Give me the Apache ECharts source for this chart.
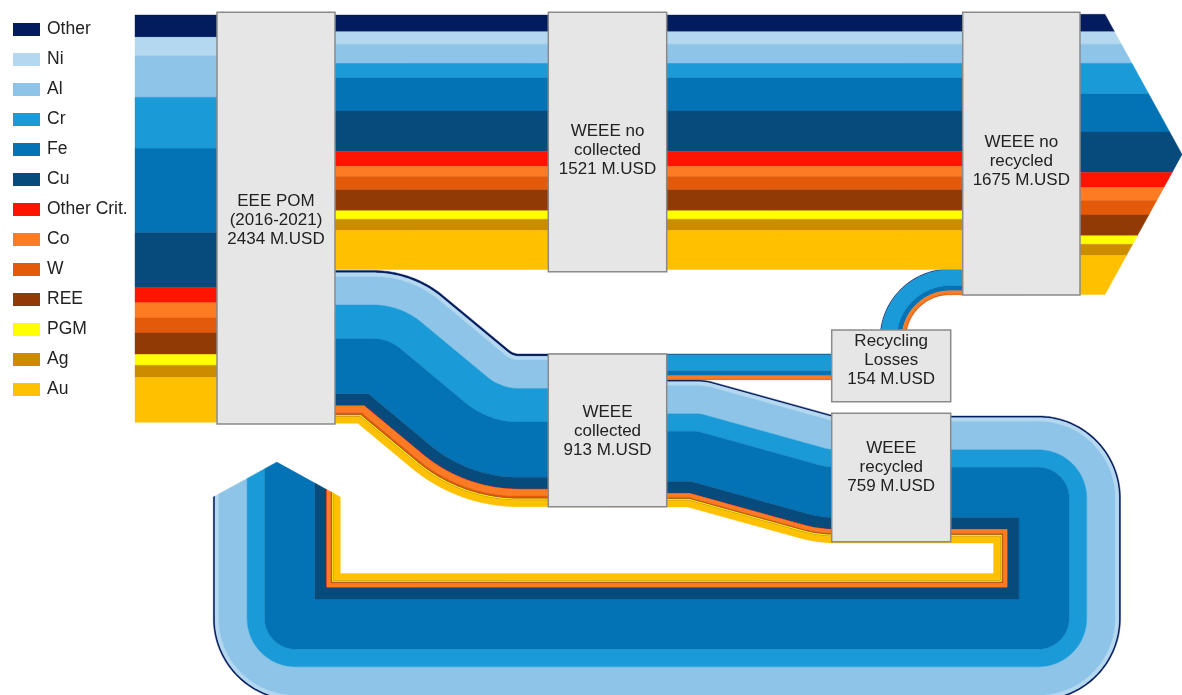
<!DOCTYPE html>
<html><head><meta charset="utf-8">
<script src="https://cdn.jsdelivr.net/npm/echarts@6/dist/echarts.min.js"></script>
<style>html,body{margin:0;padding:0;background:#fff}#c{width:1182px;height:695px}</style>
</head><body><div id="c"></div>
<script>
// ---------- data (M.USD) ----------
const materials = ['Other','Ni','Al','Cr','Fe','Cu','Other Crit.','Co','W','REE','PGM','Ag','Au'];
const pomIn       = [133,110,249,305,504,329,90,90,90,129,64,74,267];
const noCollected = [100,75,114,86,199,241,90,60,80,125,50,68,233];
const collected   = [14,22,170,201,330,70,2,40,12,4,6,4,38];
const losses      = [4,0,0,96,30,0,0,18,6,0,0,0,0];
const recycled    = [10,22,170,105,300,70,2,22,6,4,6,4,38];
const noRecycled  = [104,75,114,182,229,241,90,78,86,125,50,68,233];
const nodeNames   = ['EEE POM\n(2016-2021)','WEEE no\ncollected','WEEE no\nrecycled','WEEE\ncollected','Recycling\nLosses','WEEE\nrecycled'];
const nodeTotals  = [2434,1521,1675,913,154,759];

// ---------- styles / layout ----------
const colors = ['#021c5e','#b4d8ef','#8ec4e8','#1a9ad6','#0373b6','#064b7c','#ff1400','#fd7b22','#e25a0a','#913a05','#ffff00','#cc8c00','#ffc000'];
const PX = 407.3 / 2434;      // layout units per M.USD
const ARROW = 0.55;           // arrow tip length / half width
const FONT = '"Liberation Sans", Arial, sans-serif';

const flows = [
  {vals: recycled,    pts: [[607,380],[705,380],[835,416],[1120.5,416],[1120.5,700.5],[213.3,700.5],[213.3,497]], radii: [60,10,82,82,82], arrow: true},
  {vals: pomIn,       pts: [[135,15],[276,15]], radii: []},
  {vals: noCollected, pts: [[276,15],[1021,15]], radii: []},
  {vals: noRecycled,  pts: [[1021,14.3],[1105,14.3]], radii: [], arrow: true},
  {vals: collected,   pts: [[276,270.5],[413,270.5],[513.5,354],[607,354]], radii: [110,15]},
  {vals: losses,      pts: [[607,354],[891,354]], radii: []},
  {vals: losses,      pts: [[880,366],[880,269],[1021,269]], radii: [70]}
];
const nodeRects = [
  [217,12.3,335,424],[548.3,12.3,666.7,271.7],[962.7,12.3,1080,295],
  [548.3,354,666.7,506.7],[831.7,330,950.7,401.7],[831.7,413.3,950.7,541.7]
];
const labelPos = [[276,220],[607.5,150],[1021.3,161],[607.5,431.7],[891.2,360.5],[891.2,467]];

// ---------- geometry ----------
function segDirs(pts){
  const u=[];
  for(let i=0;i<pts.length-1;i++){
    const dx=pts[i+1][0]-pts[i][0], dy=pts[i+1][1]-pts[i][1], L=Math.hypot(dx,dy);
    u.push([dx/L,dy/L]);
  }
  return u;
}
function offsetLine(pts, radii, d){
  const n=pts.length, u=segDirs(pts), nr=u.map(v=>[-v[1],v[0]]);
  const out=[[pts[0][0]+nr[0][0]*d, pts[0][1]+nr[0][1]*d]];
  for(let i=1;i<n-1;i++){
    const ua=u[i-1], ub=u[i], na=nr[i-1], nb=nr[i];
    const dot=na[0]*nb[0]+na[1]*nb[1];
    const mx=pts[i][0]+d*(na[0]+nb[0])/(1+dot);
    const my=pts[i][1]+d*(na[1]+nb[1])/(1+dot);
    const cross=ua[0]*ub[1]-ua[1]*ub[0];
    const R=radii[i-1]||0;
    const r=Math.max(0, cross>0 ? R-d : R+d);
    const th=Math.acos(Math.max(-1,Math.min(1,ua[0]*ub[0]+ua[1]*ub[1])));
    if(r<0.01||th<1e-3){ out.push([mx,my]); continue; }
    const t=r*Math.tan(th/2);
    const A=[mx-ua[0]*t, my-ua[1]*t];
    const s=cross>0?1:-1;
    const C=[A[0]+na[0]*r*s, A[1]+na[1]*r*s];
    const a0=Math.atan2(A[1]-C[1],A[0]-C[0]);
    const N=Math.max(3,Math.ceil(th*r/2));
    for(let k=0;k<=N;k++){ const a=a0+s*th*k/N; out.push([C[0]+r*Math.cos(a), C[1]+r*Math.sin(a)]); }
  }
  out.push([pts[n-1][0]+nr[n-2][0]*d, pts[n-1][1]+nr[n-2][1]*d]);
  return out;
}
function bandPolygon(f, d1, d2){
  const a=offsetLine(f.pts,f.radii,d1), b=offsetLine(f.pts,f.radii,d2).reverse();
  if(!f.arrow) return a.concat(b);
  const u=segDirs(f.pts), ue=u[u.length-1], ne=[-ue[1],ue[0]];
  const P=f.pts[f.pts.length-1];
  const W=PX*f.vals.reduce((s,v)=>s+v,0), H=W/2, L=ARROW*H;
  const ext=d=>L*(1-Math.abs(d-H)/H);
  const cap=[[P[0]+ne[0]*d1+ue[0]*ext(d1), P[1]+ne[1]*d1+ue[1]*ext(d1)]];
  if(d1<H && d2>H) cap.push([P[0]+ne[0]*H+ue[0]*L, P[1]+ne[1]*H+ue[1]*L]);
  cap.push([P[0]+ne[0]*d2+ue[0]*ext(d2), P[1]+ne[1]*d2+ue[1]*ext(d2)]);
  return a.concat(cap, b);
}

// ---------- series ----------
const series = materials.map((name,m)=>({
  type:'custom', name, coordinateSystem:'cartesian2d', z:2,
  itemStyle:{color:colors[m]},
  data: flows.map((f,i)=>[i,m,f.vals[m]]).filter(r=>r[2]>0),
  renderItem:(params,api)=>{
    const fi=api.value(0), mi=api.value(1), f=flows[fi];
    let d1=0; for(let k=0;k<mi;k++) d1+=f.vals[k]*PX;
    const d2=d1+api.value(2)*PX;
    const points=bandPolygon(f,d1,d2).map(p=>api.coord(p));
    return {type:'polygon', shape:{points}, style:{fill:colors[mi], stroke:colors[mi], lineWidth:0.4}};
  }
}));
series.push({
  type:'custom', name:'nodes', coordinateSystem:'cartesian2d', z:10,
  data: nodeTotals.map((v,i)=>[i,v]),
  renderItem:(params,api)=>{
    const i=api.value(0), r=nodeRects[i];
    const p0=api.coord([r[0],r[1]]), p1=api.coord([r[2],r[3]]), lp=api.coord(labelPos[i]);
    return {type:'group', children:[
      {type:'rect', shape:{x:p0[0],y:p0[1],width:p1[0]-p0[0],height:p1[1]-p0[1]},
       style:{fill:'#e6e6e6', stroke:'#8a8a8a', lineWidth:1.5}},
      {type:'text', style:{text:nodeNames[i]+'\n'+api.value(1)+' M.USD', x:lp[0], y:lp[1],
        align:'center', verticalAlign:'middle', fontSize:17, fontFamily:FONT, lineHeight:19, fill:'#222'}}
    ]};
  }
});

const chart=echarts.init(document.getElementById('c'),null,{renderer:'canvas'});
chart.setOption({
  animation:false,
  color:colors,
  grid:{left:0,right:0,top:0,bottom:0},
  xAxis:{type:'value',min:0,max:1182,show:false},
  yAxis:{type:'value',min:0,max:695,inverse:true,show:false},
  legend:{data:materials, orient:'vertical', left:8, top:15.5, padding:5, icon:'rect', itemWidth:27, itemHeight:13, itemGap:12,
    selectedMode:false, textStyle:{fontSize:17.5, fontFamily:FONT, color:'#222', lineHeight:17, padding:[0,0,0,2]}},
  series
});
</script></body></html>
